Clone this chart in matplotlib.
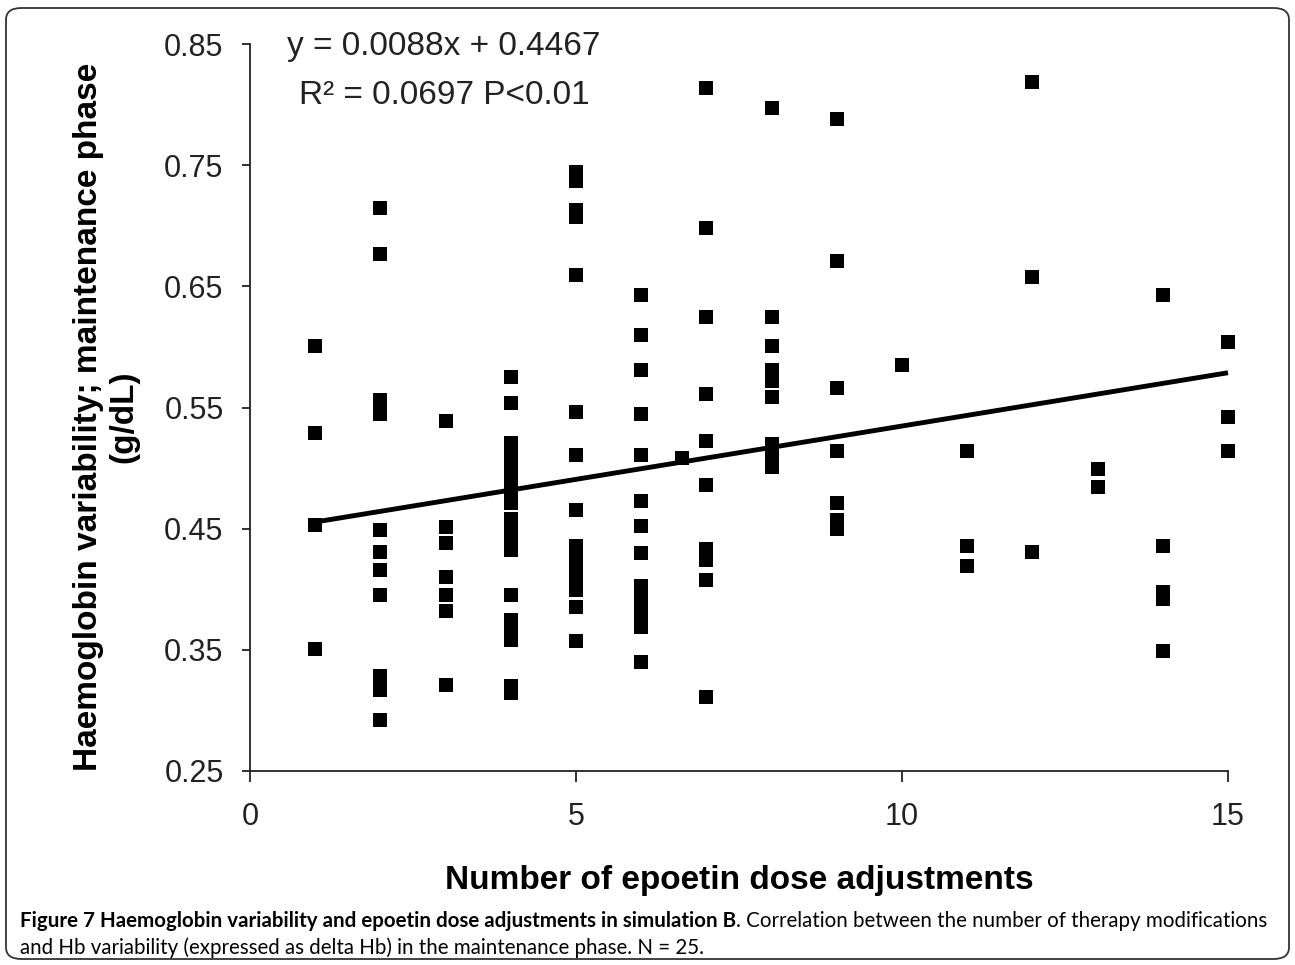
import matplotlib
matplotlib.use("Agg")
import matplotlib.pyplot as plt
from matplotlib.patches import FancyBboxPatch
import numpy as np

# number of epoetin dose adjustments (x) and delta Hb in maintenance phase (y)
adjustments = ([1] * 4 + [2] * 11 + [3] * 7 + [4] * 19 + [5] * 15 + [6] * 14
               + [6.63] + [7] * 10 + [8] * 9 + [9] * 7 + [10] + [11] * 3
               + [12] * 3 + [13] * 2 + [14] * 5 + [15] * 3)
variability = [
    0.601, 0.529, 0.453, 0.351,
    0.715, 0.677, 0.556, 0.545, 0.449, 0.431, 0.416, 0.395, 0.328, 0.317, 0.292,
    0.539, 0.451, 0.438, 0.410, 0.395, 0.382, 0.321,
    0.575, 0.554, 0.521, 0.513, 0.505, 0.496, 0.488, 0.479, 0.471,
    0.458, 0.449, 0.440, 0.432, 0.395, 0.375, 0.364, 0.358, 0.320, 0.314,
    0.744, 0.737, 0.713, 0.707, 0.659, 0.546, 0.511, 0.465,
    0.436, 0.427, 0.418, 0.408, 0.399, 0.385, 0.357,
    0.643, 0.610, 0.581, 0.545, 0.511, 0.473, 0.452, 0.430,
    0.403, 0.394, 0.386, 0.377, 0.369, 0.340,
    0.508,
    0.814, 0.698, 0.625, 0.561, 0.522, 0.486, 0.433, 0.424, 0.408, 0.311,
    0.797, 0.625, 0.601, 0.581, 0.572, 0.559, 0.520, 0.511, 0.501,
    0.788, 0.671, 0.566, 0.514, 0.471, 0.457, 0.450,
    0.585,
    0.514, 0.436, 0.419,
    0.819, 0.658, 0.431,
    0.499, 0.484,
    0.643, 0.436, 0.398, 0.392, 0.349,
    0.604, 0.542, 0.514,
]

slope = 0.0088
intercept = 0.4467

x_ticks = [0, 5, 10, 15]
y_ticks = [0.25, 0.35, 0.45, 0.55, 0.65, 0.75, 0.85]
y_tick_labels = ["0.25", "0.35", "0.45", "0.55", "0.65", "0.75", "0.85"]

plt.rcParams['font.family'] = ['Liberation Sans', 'DejaVu Sans']

W, H = 1295, 965
fig = plt.figure(figsize=(W / 100, H / 100), dpi=100)

# rounded frame around the whole figure
frame = FancyBboxPatch((6 / W, 6 / H), 1 - 12 / W, 1 - 14 / H,
                       boxstyle="round,pad=0,rounding_size=0.012",
                       transform=fig.transFigure, facecolor="none",
                       edgecolor="#333333", linewidth=1.3)
fig.patches.append(frame)

ax = fig.add_axes([250 / W, 1 - 771 / H, 978 / W, 727 / H])

ax.plot(adjustments, variability, linestyle="none", marker="s",
        markersize=10, color="black", markeredgewidth=0, clip_on=False)

xl = np.array([min(adjustments), max(adjustments)])
ax.plot(xl, slope * xl + intercept, color="black", linewidth=3.5,
        solid_capstyle="butt", clip_on=False)

ax.set_xlim(0, 15)
ax.set_ylim(0.25, 0.85)
ax.set_xticks(x_ticks)
ax.set_yticks(y_ticks)
ax.set_yticklabels(y_tick_labels)
ax.spines["top"].set_visible(False)
ax.spines["right"].set_visible(False)
for s in ("left", "bottom"):
    ax.spines[s].set_linewidth(1.3)
    ax.spines[s].set_color("#222222")
ax.tick_params(axis="y", direction="out", length=6, width=1.3,
               labelsize=22, pad=13, colors="#222222")
ax.tick_params(axis="x", direction="out", length=8, width=1.3,
               labelsize=22, pad=14, colors="#222222")

ax.set_xlabel("Number of epoetin dose adjustments", fontsize=24,
              fontweight="bold", labelpad=24)
fig.text(106 / W, 1 - 417 / H,
         "Haemoglobin variability; maintenance phase\n(g/dL)",
         rotation=90, ha="center", va="center", multialignment="center",
         fontsize=24, fontweight="bold", linespacing=1.2)

fig.text(444 / W, 1 - 46 / H, "y = 0.0088x + 0.4467",
         ha="center", va="center", fontsize=24, color="#222222")
fig.text(444 / W, 1 - 95 / H, "R² = 0.0697 P<0.01",
         ha="center", va="center", fontsize=24, color="#222222")

# caption: bold title, then the regular sentence right after it
cap1 = fig.text(20 / W, 1 - 931 / H,
                "Figure 7 Haemoglobin variability and epoetin dose adjustments in simulation B",
                fontsize=14.8, fontweight="bold", family="Lato", va="bottom")
ax.annotate(". Correlation between the number of therapy modifications",
            xy=(1, 0), xycoords=cap1, va="bottom", ha="left",
            fontsize=14.8, family="Lato", annotation_clip=False)
fig.text(20 / W, 1 - 958 / H,
         "and Hb variability (expressed as delta Hb) in the maintenance phase. N = 25.",
         fontsize=14.8, family="Lato", va="bottom")

fig.savefig("out.png", dpi=100)
